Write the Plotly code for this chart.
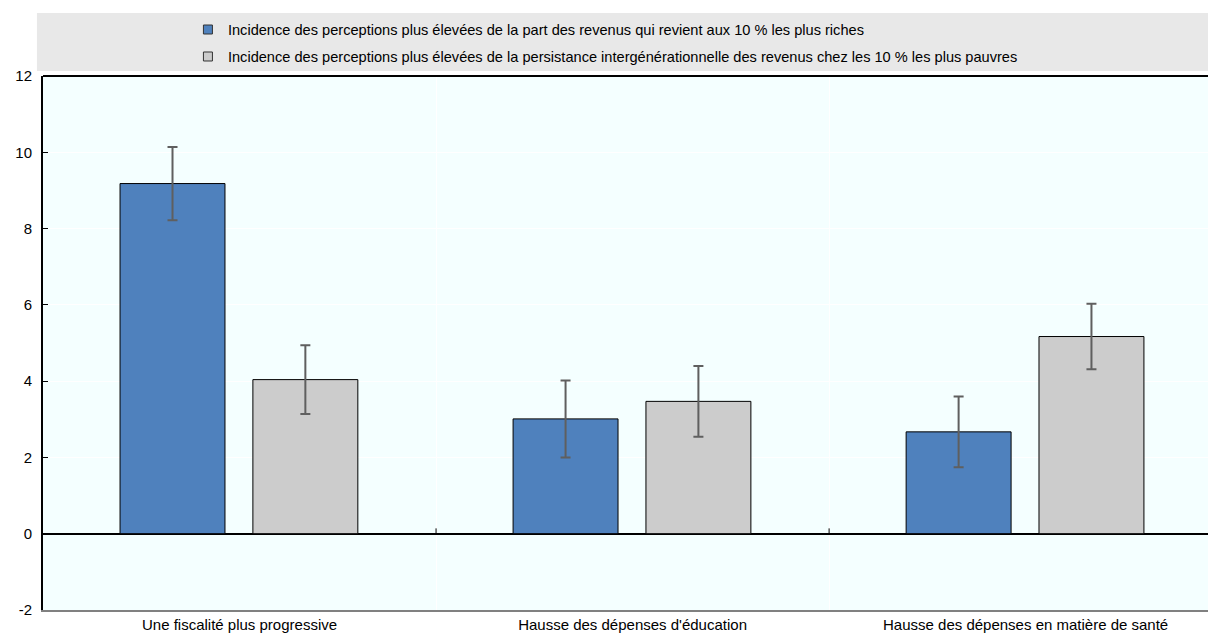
import plotly.graph_objects as go

# Categories and series values
categories = [
    "Une fiscalité plus progressive",
    "Hausse des dépenses d'éducation",
    "Hausse des dépenses en matière de santé",
]
series_names = [
    "Incidence des perceptions plus élevées de la part des revenus qui revient aux 10 % les plus riches",
    "Incidence des perceptions plus élevées de la persistance intergénérationnelle des revenus chez les 10 % les plus pauvres",
]
top10_values = [9.18, 3.01, 2.67]
top10_errors = [0.96, 1.01, 0.93]
bottom10_values = [4.04, 3.47, 5.17]
bottom10_errors = [0.90, 0.93, 0.86]
y_tick_values = [-2, 0, 2, 4, 6, 8, 10, 12]
y_tick_labels = ["-2", "0", "2", "4", "6", "8", "10", "12"]

FONT = "Liberation Sans, Arial, sans-serif"
BLUE = "#4F81BD"
GREY = "#CCCCCC"
x_pos = list(range(len(categories)))

fig = go.Figure()
fig.add_trace(go.Bar(
    x=x_pos, y=top10_values, name=series_names[0], showlegend=False,
    width=0.267, offset=-0.304,
    marker=dict(color=BLUE, line=dict(color="#000000", width=1)),
    error_y=dict(type="data", array=top10_errors, color="#5F5F5F", thickness=2, width=5),
))
fig.add_trace(go.Bar(
    x=x_pos, y=bottom10_values, name=series_names[1], showlegend=False,
    width=0.267, offset=0.034,
    marker=dict(color=GREY, line=dict(color="#000000", width=1)),
    error_y=dict(type="data", array=bottom10_errors, color="#5F5F5F", thickness=2, width=5),
))

# Legend entries with small outlined square keys
for name, color, grp in [(series_names[0], BLUE, "a"), (series_names[1], GREY, "b")]:
    fig.add_trace(go.Scatter(
        x=[None], y=[None], mode="markers", name=name, legendgroup=grp,
        marker=dict(symbol="square", size=9, color=color,
                    line=dict(color="#333333", width=1)),
    ))

# Legend band behind the legend entries
fig.add_shape(type="rect", xref="paper", yref="paper",
              x0=-0.0052, x1=1.0, y0=1.0094, y1=1.118,
              fillcolor="#E8E8E8", line=dict(width=0), layer="below")
# Top frame line of the plot area
fig.add_shape(type="line", xref="paper", yref="paper", x0=0, x1=1, y0=1, y1=1,
              line=dict(color="#000000", width=2))
# Small marks on the zero line between categories
for b in [0.5, 1.5]:
    fig.add_shape(type="line", xref="x", yref="y", x0=b, x1=b, y0=0, y1=0.14,
                  line=dict(color="#000000", width=1))

fig.update_layout(
    width=1208, height=634,
    margin=dict(l=43, r=0, t=76, b=24),
    paper_bgcolor="#FFFFFF",
    plot_bgcolor="#F4FFFF",
    font=dict(family=FONT, size=15, color="#000000"),
    showlegend=True,
    legend=dict(
        x=0.1244, xanchor="left", y=1.117, yanchor="top",
        bgcolor="rgba(0,0,0,0)", traceorder="grouped", tracegroupgap=5,
        font=dict(family=FONT, size=14.6, color="#000000"),
        itemclick=False,
    ),
    xaxis=dict(
        range=[-0.5, 2.464],
        tickmode="array", tickvals=x_pos, ticktext=categories,
        ticks="", showgrid=False, zeroline=False,
        showline=True, linecolor="#808080", linewidth=2,
        minor=dict(tickmode="array", tickvals=[0.5, 1.5], showgrid=True,
                   gridcolor="#FFFFFF", gridwidth=1, ticks=""),
        tickfont=dict(family=FONT, size=15, color="#000000"),
    ),
    yaxis=dict(
        range=[-2, 12], tickmode="array", tickvals=y_tick_values, ticktext=y_tick_labels,
        ticks="inside", ticklen=5, tickwidth=1, tickcolor="#000000",
        showline=True, linecolor="#000000", linewidth=2,
        showgrid=True, gridcolor="#FFFFFF", gridwidth=1,
        zeroline=True, zerolinecolor="#000000", zerolinewidth=2,
        ticklabelstandoff=6,
        tickfont=dict(family=FONT, size=15, color="#000000"),
    ),
)

fig.write_html("out.html")
